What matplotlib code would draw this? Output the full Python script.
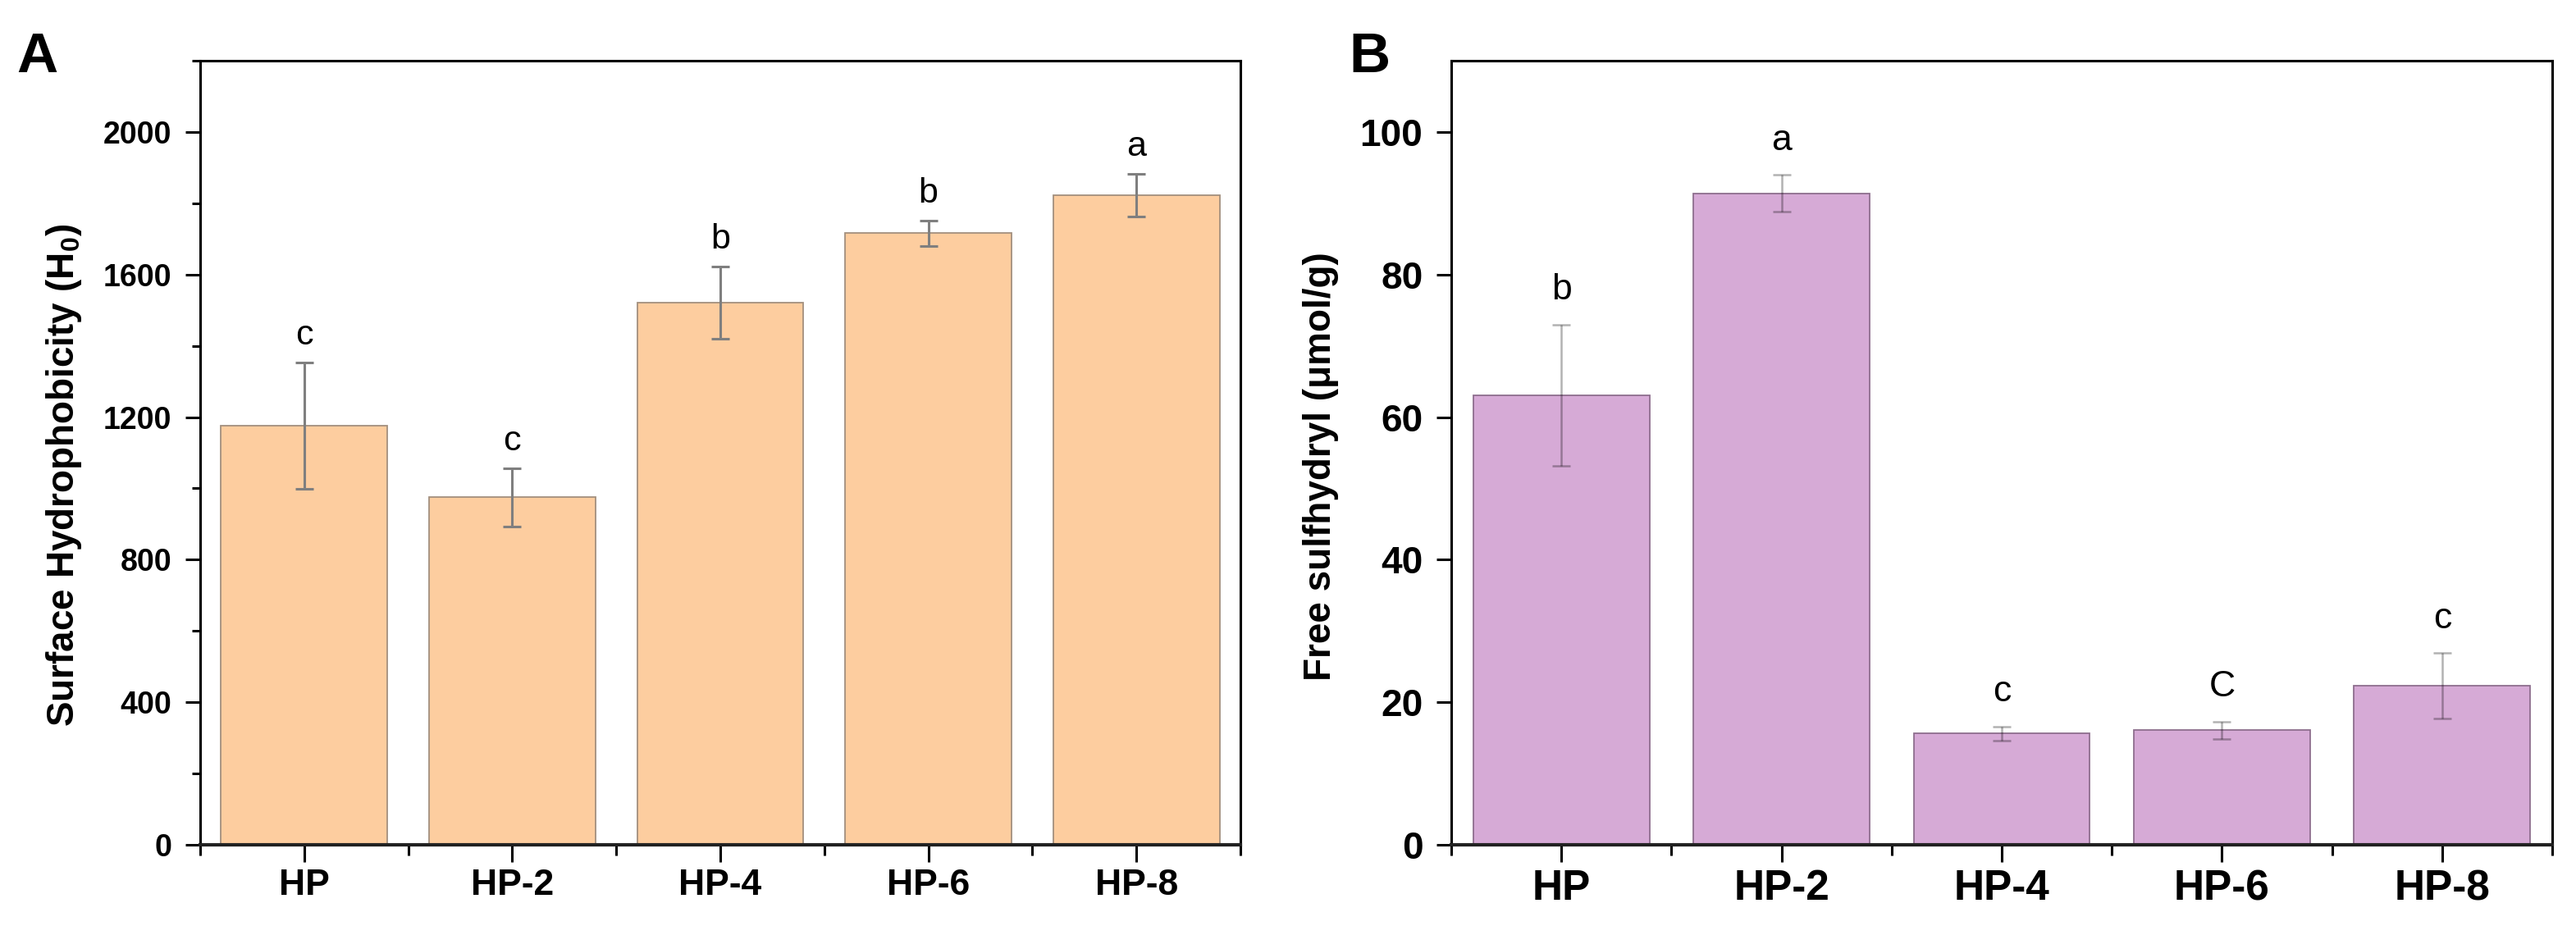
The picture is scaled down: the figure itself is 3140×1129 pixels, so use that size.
import matplotlib
matplotlib.use("Agg")
import matplotlib.pyplot as plt
import numpy as np
from matplotlib.ticker import MultipleLocator, FixedLocator

plt.rcParams['font.family'] = ['Liberation Sans', 'DejaVu Sans']
plt.rcParams['mathtext.fontset'] = 'custom'
plt.rcParams['mathtext.rm'] = 'Liberation Sans'
plt.rcParams['mathtext.bf'] = 'Liberation Sans:bold'

categories = ['HP', 'HP-2', 'HP-4', 'HP-6', 'HP-8']

hydro_vals = [1176, 975, 1521, 1716, 1822]
hydro_err = [178, 82, 102, 36, 60]
hydro_letters = ['c', 'c', 'b', 'b', 'a']

sh_vals = [63.1, 91.4, 15.6, 16.1, 22.3]
sh_err = [9.9, 2.6, 1.0, 1.2, 4.6]
sh_letters = ['b', 'a', 'c', 'C', 'c']

W, H = 3140, 1129
fig = plt.figure(figsize=(W / 100, H / 100), dpi=100)

def px_axes(l, r, t, b):
    return fig.add_axes([l / W, 1 - b / H, (r - l) / W, (b - t) / H])

axA = px_axes(244, 1512, 74, 1030)
axB = px_axes(1769, 3111, 74, 1030)

def style(ax, tick_fs, xtick_fs):
    for s in ['left', 'right', 'top']:
        ax.spines[s].set_linewidth(2.2)
        ax.spines[s].set_color('black')
    ax.spines['bottom'].set_linewidth(3.0)
    ax.spines['bottom'].set_color('#222222')
    ax.set_xlim(-0.5, len(categories) - 0.5)
    ax.set_xticks(range(len(categories)))
    ax.set_xticklabels(categories, fontsize=xtick_fs, fontweight='bold')
    ax.xaxis.set_minor_locator(FixedLocator(np.arange(-0.5, len(categories), 1.0)))
    ax.tick_params(axis='x', which='major', direction='out', length=15, width=2.2, pad=6)
    ax.tick_params(axis='x', which='minor', direction='out', length=9, width=2.2)
    ax.tick_params(axis='y', which='major', direction='out', length=13, width=2.2, pad=12,
                   labelsize=tick_fs)
    ax.tick_params(axis='y', which='minor', direction='out', length=7, width=2.2)
    ax.tick_params(top=False, right=False, which='both')
    for lab in ax.get_yticklabels():
        lab.set_fontweight('bold')

x = np.arange(len(categories))

# Panel A
axA.bar(x, hydro_vals, width=0.8, color='#FDCD9F', edgecolor='#A3907E', linewidth=1.3, zorder=2)
axA.errorbar(x, hydro_vals, yerr=hydro_err, fmt='none', ecolor='#7F7F7F',
             elinewidth=2.2, capsize=8, capthick=2.2, zorder=3)
axA.set_ylim(0, 2200)
axA.yaxis.set_major_locator(MultipleLocator(400))
axA.yaxis.set_minor_locator(MultipleLocator(200))
style(axA, 27, 32)
for xi, v, e, t in zip(x, hydro_vals, hydro_err, hydro_letters):
    axA.text(xi, v + e + 50, t, ha='center', va='baseline', fontsize=31)
axA.set_ylabel(r'Surface Hydrophobicity (H$_\mathbf{0}$)', fontsize=33, fontweight='bold')
axA.yaxis.set_label_coords(-0.112, 0.471)

# Panel B
axB.bar(x, sh_vals, width=0.8, color='#D6AAD6', edgecolor='#8E6E8E', linewidth=1.3, zorder=2)
axB.errorbar(x, sh_vals, yerr=sh_err, fmt='none', ecolor=(0, 0, 0, 0.3),
             elinewidth=1.8, capsize=8, capthick=1.8, zorder=3)
axB.set_ylim(0, 110)
axB.yaxis.set_major_locator(MultipleLocator(20))
style(axB, 33, 37)
axB.tick_params(axis='y', which='minor', left=False)
for xi, v, e, t in zip(x, sh_vals, sh_err, sh_letters):
    axB.text(xi, v + e + 3.5, t, ha='center', va='baseline', fontsize=32)
axB.set_ylabel('Free sulfhydryl (μmol/g)', fontsize=33, fontweight='bold')
axB.yaxis.set_label_coords(-0.102, 0.483)

fig.text(20 / W, 1 - 88 / H, 'A', fontsize=50, fontweight='bold', ha='left', va='baseline')
fig.text(1644 / W, 1 - 88 / H, 'B', fontsize=50, fontweight='bold', ha='left', va='baseline')

fig.savefig('out.png', dpi=100, facecolor='white')
